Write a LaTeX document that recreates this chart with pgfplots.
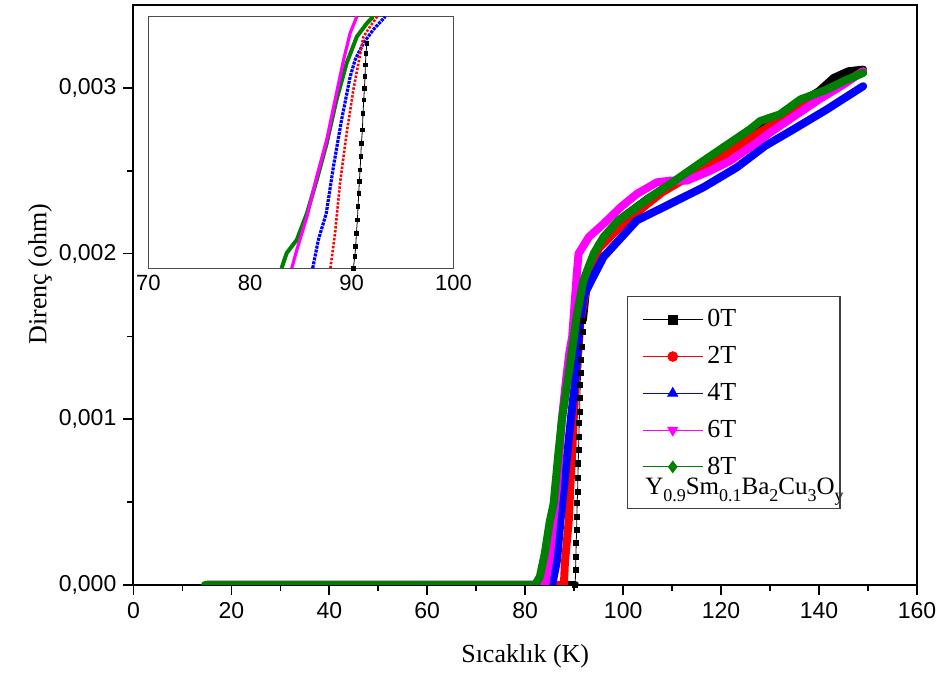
\documentclass[border=0pt]{standalone}
\usepackage{fontspec}
\setmainfont{Liberation Serif}
\newfontfamily\arialfont{Liberation Sans}
\usepackage{pgfplots}
\pgfplotsset{compat=1.18}
\definecolor{ogreen}{RGB}{0,128,0}
\definecolor{omag}{RGB}{255,0,255}
\pgfplotsset{
  band/.style={line width=4pt, line join=round, line cap=round, mark=none, forget plot},
}
\newcommand\sub[1]{\raisebox{-0.6ex}[0.5ex][0pt]{\fontsize{9}{10}\selectfont #1}}

\begin{document}
\begin{tikzpicture}
\path[use as bounding box] (0,0) rectangle (471.5pt,342pt);
\begin{axis}[
  at={(66.7pt,49.5pt)}, anchor=south west,
  scale only axis, width=391.8pt, height=290pt,
  xmin=0, xmax=160, ymin=0, ymax=0.0035,
  xtick={0,20,...,160}, minor x tick num=1,
  ytick={0,0.001,0.002,0.003}, minor y tick num=1,
  scaled y ticks=false,
  yticklabel style={/pgf/number format/.cd, fixed, fixed zerofill, precision=3, use comma},
  /pgf/number format/assume math mode=true,
  ticklabel style={font=\arialfont\fontsize{11.5}{13}\selectfont},
  tick align=outside, xtick pos=bottom, ytick pos=left,
  major tick length=5pt, minor tick length=3pt,
  tick style={black, line width=0.8pt},
  axis line style={line width=1pt},
  xlabel={Sıcaklık (K)}, ylabel={Direnç (ohm)},
  label style={font=\fontsize{13}{15}\selectfont},
  xlabel style={at={(axis description cs:0.5,-0.1224)}, anchor=center},
  ylabel style={at={(axis description cs:-0.119,0.536)}, anchor=center},
  legend style={name=leg, at={(0.631,0.498)}, anchor=north west, draw=none, fill=none,
    font=\fontsize{13}{15}\selectfont, row sep=4.3pt, inner xsep=7pt, inner ysep=4.5pt},
  legend cell align=left,
  legend image code/.code={\draw[mark repeat=2, mark phase=2, #1] plot coordinates {(0pt,0pt) (15pt,0pt) (30pt,0pt)};},
]
% 0T
\addplot[band, black] coordinates {(15,0) (90.2,0)};
\addplot[black, line width=0.4pt, mark=square*, mark size=1.3pt, forget plot] coordinates {
(90.21,0) (90.28,0.0000905) (90.35,0.000171) (90.42,0.000252) (90.49,0.000332)
(90.55,0.000412) (90.62,0.000493) (90.69,0.000563) (90.76,0.000644) (90.83,0.000734)
(90.89,0.000815) (90.96,0.000895) (91.03,0.000976) (91.10,0.001046) (91.17,0.001127)
(91.23,0.001207) (91.30,0.001278) (91.44,0.001358) (91.58,0.001438) (91.71,0.001529)
(91.78,0.001595)};
\addplot[band, black] coordinates {
(91.78,0.0016) (92.5,0.0018) (95,0.00205) (100,0.00222) (105,0.00233) (110,0.00242)
(115,0.00252) (120,0.00262) (125,0.00272) (130,0.0028) (135,0.00289) (140,0.00298)
(143,0.00306) (146,0.0031) (149,0.00311)};
% 2T
\addplot[band, red] coordinates {
(15,0) (87.9,0) (88.1,0.00013) (88.5,0.00026) (88.9,0.00039) (89.2,0.00059) (89.6,0.0008)
(89.9,0.001) (90.3,0.0012) (90.8,0.0014) (91.3,0.0016) (92.5,0.0018) (95,0.00203)
(100,0.00218) (105,0.0023) (108,0.00237) (112,0.00244) (116,0.0025) (120,0.00258)
(125,0.00268) (130,0.00277) (135,0.00286) (140,0.00295) (145,0.00303) (149,0.0031)};
% 4T
\addplot[band, blue] coordinates {
(15,0) (85.5,0) (86.5,0.00015) (87.2,0.00039) (87.8,0.00056) (88.4,0.00073) (88.9,0.00088)
(89.5,0.00105) (90.1,0.0012) (90.7,0.0014) (91.2,0.0016) (92,0.00175) (93.9,0.00186)
(96,0.00198) (102.8,0.0022) (109.6,0.0023) (116.4,0.0024) (123.2,0.00252) (129,0.00265)
(134.8,0.00275) (141.6,0.00287) (149,0.00301)};
% 6T
\addplot[band, omag] coordinates {
(15,0) (84.1,0) (85.1,0.00019) (85.8,0.00039) (86.5,0.00059) (87.0,0.0008) (87.5,0.001)
(88.2,0.0012) (89.0,0.0014) (89.6,0.0015) (90.1,0.0017) (90.6,0.0019) (90.9,0.002)
(93,0.0021) (96,0.00218) (99.5,0.00228) (102.8,0.00236) (106.9,0.00243) (109.6,0.00244)
(113,0.00244) (117.8,0.0025) (121.9,0.00256) (127.3,0.00267) (130,0.00273) (135,0.00283)
(140,0.00293) (145,0.00302) (149,0.0031)};
% 8T
\addplot[band, ogreen] coordinates {
(14.6,0) (82,0) (83,0.00005) (84,0.00019) (85,0.00038) (85.8,0.00049) (86.8,0.0008)
(87.5,0.001) (89.2,0.00134) (90.6,0.00164) (91.9,0.00184) (94,0.002) (96,0.0021)
(99,0.0022) (102.8,0.00228) (106,0.00235) (109.6,0.00242) (113,0.00249) (116.4,0.00256)
(121.9,0.00267) (125.9,0.00275) (128,0.0028) (132,0.00284) (136.2,0.00293) (141.6,0.00299)
(145,0.00304) (149,0.00309)};

\addlegendimage{black, line width=0.5pt, mark=square*, mark size=2.2pt}
\addlegendentry{0T}
\addlegendimage{red, line width=0.5pt, mark=*, mark size=2.4pt}
\addlegendentry{2T}
\addlegendimage{blue, line width=0.5pt, mark=triangle*, mark size=2.8pt}
\addlegendentry{4T}
\addlegendimage{omag, line width=0.5pt, mark=triangle*, mark size=2.8pt, mark options={rotate=180}}
\addlegendentry{6T}
\addlegendimage{ogreen, line width=0.5pt, mark=diamond*, mark size=2.8pt}
\addlegendentry{8T}
\addlegendimage{empty legend}
\addlegendentry{\hspace*{-31pt}\raisebox{8pt}[8.5pt][0pt]{\fontsize{12.5}{14}\selectfont Y\sub{0.9}Sm\sub{0.1}Ba\sub{2}Cu\sub{3}O\sub{y}}\hspace*{-11pt}}
\end{axis}
\draw[black!75, line width=0.6pt] (leg.north west) rectangle ([yshift=-106pt]leg.north east);

\begin{axis}[
  at={(74.2pt,207.9pt)}, anchor=south west,
  scale only axis, width=152.5pt, height=125.8pt,
  xmin=70, xmax=100, ymin=0, ymax=0.002,
  xtick={70,80,90,100}, ytick=\empty,
  major tick length=0pt, xtick pos=bottom,
  /pgf/number format/assume math mode=true,
  ticklabel style={font=\arialfont\fontsize{11}{13}\selectfont},
  axis line style={draw=black!70, line width=0.6pt},
]
\addplot[ogreen, line width=2pt, line join=round] coordinates {
(83.1,0) (83.6,0.00012) (84.6,0.000226) (85.6,0.000438) (86.56,0.000702) (87.54,0.000994)
(88.5,0.001338) (89.5,0.00163) (90.5,0.00184) (91.5,0.001948) (92.1,0.002)};
\addplot[omag, line width=1.6pt, line join=round] coordinates {
(84.1,0) (84.6,0.000146) (85.6,0.00041) (86.56,0.000728) (87.54,0.00102) (88.5,0.00139)
(89.2,0.001656) (89.84,0.001868) (90.5,0.002)};
\addplot[blue, line width=1.6pt, dash pattern=on 1.5pt off 0.5pt] coordinates {
(86.16,0) (86.72,0.000226) (87.5,0.000438) (88.2,0.000808) (89.0,0.001178) (89.84,0.00152)
(90.33,0.001656) (91.15,0.001788) (92.1,0.001894) (93.3,0.002)};
\addplot[red, line width=1.3pt, dash pattern=on 1.2pt off 0.8pt] coordinates {
(87.9,0) (88.36,0.000278) (88.85,0.000676) (89.5,0.001072) (90.16,0.001418) (90.66,0.00163)
(91.15,0.00184) (91.8,0.00192) (92.5,0.002)};
\addplot[black, line width=0.4pt, mark=square*, mark size=0.9pt] coordinates {
(90.16,0) (90.30,0.000093) (90.39,0.000172) (90.46,0.000278) (90.56,0.000384) (90.62,0.00049)
(90.69,0.000596) (90.75,0.000689) (90.82,0.000781) (90.89,0.000887) (90.95,0.000993)
(91.05,0.001099) (91.11,0.001232) (91.18,0.001338) (91.25,0.00143) (91.31,0.001523)
(91.34,0.001616) (91.41,0.001709) (91.48,0.001788)};
\end{axis}
\end{tikzpicture}
\end{document}
